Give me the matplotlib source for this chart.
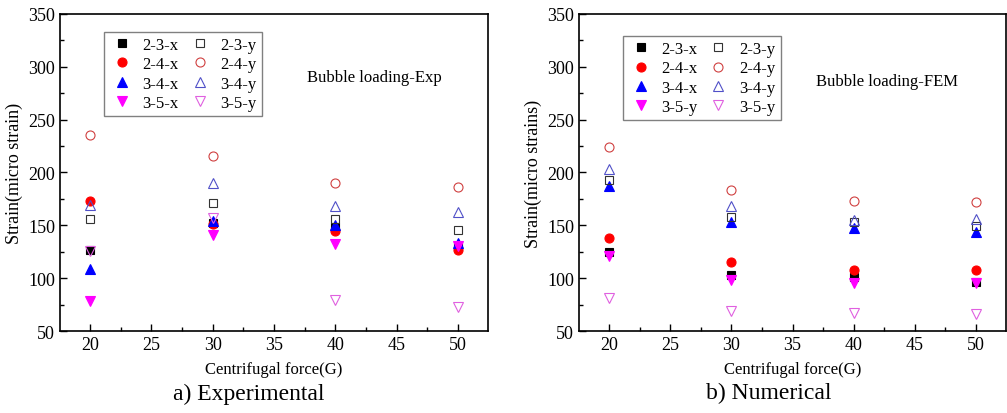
import numpy as np
import matplotlib
matplotlib.use("Agg")
from matplotlib import pyplot as plt
from matplotlib.ticker import MultipleLocator

plt.rcParams['font.family'] = ['Liberation Serif', 'DejaVu Serif']

force = [20, 30, 40, 50]

# experimental strains
exp = {
  '2-3-x': [127, 152, 148, 130],
  '2-4-x': [173, 151, 145, 127],
  '3-4-x': [109, 154, 150, 133],
  '3-5-x': [78, 141, 132, 130],
  '2-3-y': [156, 171, 156, 146],
  '2-4-y': [235, 216, 190, 186],
  '3-4-y': [169, 190, 168, 163],
  '3-5-y': [126, 157, 79, 73],
}

# FEM strains
fem = {
  '2-3-x': [125, 103, 101, 96],
  '2-4-x': [138, 115, 108, 108],
  '3-4-x': [187, 153, 147, 144],
  '3-5-y ': [121, 98, 95, 95],
  '2-3-y': [193, 158, 153, 149],
  '2-4-y': [224, 183, 173, 172],
  '3-4-y': [203, 168, 155, 156],
  '3-5-y': [81, 69, 67, 66],
}

styles = [
  dict(marker='s', color='black', ms=6),
  dict(marker='o', color='red', ms=6.5),
  dict(marker='^', color='blue', ms=7),
  dict(marker='v', color='magenta', ms=7),
  dict(marker='s', mfc='none', mec='#333333', ms=6),
  dict(marker='o', mfc='none', mec='#d04040', ms=6.5),
  dict(marker='^', mfc='none', mec='#5050c8', ms=7),
  dict(marker='v', mfc='none', mec='#e060e0', ms=7),
]


def draw(ax, data, ylabel, note, note_xy, leg_xy):
  for (label, vals), st in zip(data.items(), styles):
    ax.plot(force, vals, linestyle='none', label=label.strip(), mew=0.8, **st)
  ax.set_xlim(17.55, 52.45)
  ax.set_ylim(50, 350)
  ax.xaxis.set_major_locator(MultipleLocator(5))
  ax.xaxis.set_minor_locator(MultipleLocator(2.5))
  ax.yaxis.set_major_locator(MultipleLocator(50))
  ax.yaxis.set_minor_locator(MultipleLocator(25))
  ax.tick_params(which='both', direction='in', top=False, right=False, labelsize=13)
  ax.tick_params(which='major', length=5, width=1)
  ax.tick_params(which='minor', length=3, width=1)
  for s in ax.spines.values():
    s.set_linewidth(1.2)
  ax.set_ylabel(ylabel, fontsize=13, labelpad=4)
  ax.set_xlabel('Centrifugal force(G)', fontsize=12, labelpad=6)
  ax.text(*note_xy, note, transform=ax.transAxes, fontsize=12)
  leg = ax.legend(ncol=2, loc='upper left', bbox_to_anchor=leg_xy, fontsize=12,
                  fancybox=False, edgecolor='#808080', framealpha=1,
                  handletextpad=0.5, columnspacing=0.5, labelspacing=0.2,
                  borderpad=0.3, handlelength=1.5, borderaxespad=0)
  leg.get_frame().set_linewidth(1)


fig = plt.figure(figsize=(10.07, 4.14), dpi=100)
ax1 = fig.add_axes([0.0596, 0.198, 0.425, 0.766])
ax2 = fig.add_axes([0.575, 0.198, 0.424, 0.766])

draw(ax1, exp, 'Strain(micro strain)', 'Bubble loading-Exp', (0.578, 0.79), (0.103, 0.943))
draw(ax2, fem, 'Strain(micro strains)', 'Bubble loading-FEM', (0.555, 0.775), (0.103, 0.93))

fig.text(0.247, 0.035, 'a) Experimental', fontsize=17, ha='center')
fig.text(0.763, 0.035, 'b) Numerical', fontsize=17, ha='center')

fig.savefig('out.png', dpi=100)
